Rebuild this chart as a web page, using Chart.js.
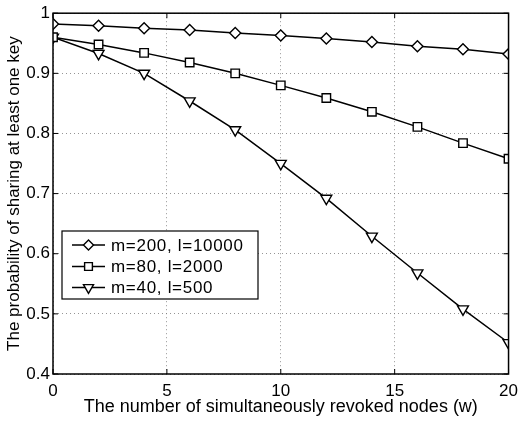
<!DOCTYPE html>
<html>
<head>
<meta charset="utf-8">
<script src="https://cdn.jsdelivr.net/npm/chart.js@4/dist/chart.umd.min.js"></script>
<style>
  html, body { margin: 0; padding: 0; background: #fff; }
  #wrap { width: 525px; height: 421px; }
</style>
</head>
<body>
<div id="wrap"><canvas id="chart" width="525" height="421"></canvas></div>
<script>
// revoked nodes w
var revoked = [0, 2, 4, 6, 8, 10, 12, 14, 16, 18, 20];

// probability of sharing at least one key
var m200 = [0.982, 0.979, 0.975, 0.972, 0.967, 0.963, 0.958, 0.952, 0.945, 0.940, 0.932];
var m80 = [0.960, 0.948, 0.934, 0.918, 0.900, 0.880, 0.859, 0.836, 0.811, 0.784, 0.758];
var m40 = [0.960, 0.933, 0.900, 0.854, 0.806, 0.750, 0.692, 0.629, 0.568, 0.508, 0.452];

var seriesLabels = ["m=200, l=10000", "m=80, l=2000", "m=40, l=500"];

var fontFamily = "'Liberation Sans', Arial, Helvetica, sans-serif";

function points(ys) {
    return revoked.map(function (w, i) { return { x: w, y: ys[i] }; });
}

function series(label, ys, style, radius, rotation) {
    return {
        label: label,
        data: points(ys),
        borderColor: '#000',
        backgroundColor: '#fff',
        borderWidth: 1.5,
        pointStyle: style,
        pointRadius: radius,
        pointRotation: rotation,
        pointBorderWidth: 1.4,
        pointBackgroundColor: '#fff',
        pointBorderColor: '#000',
        tension: 0,
        fill: false
    };
}

// frame around the plot area with small inward ticks (matlab style box)
var frame = {
    id: 'frame',
    afterDatasetsDraw: function (chart) {
        var a = chart.chartArea, ctx = chart.ctx;
        var xs = chart.scales.x, ys = chart.scales.y;
        ctx.save();
        ctx.strokeStyle = '#000';
        ctx.lineWidth = 1;
        ctx.beginPath();
        xs.ticks.forEach(function (t) {
            var px = xs.getPixelForValue(t.value);
            ctx.moveTo(px, a.bottom); ctx.lineTo(px, a.bottom - 5);
            ctx.moveTo(px, a.top); ctx.lineTo(px, a.top + 5);
        });
        ys.ticks.forEach(function (t) {
            var py = ys.getPixelForValue(t.value);
            ctx.moveTo(a.left, py); ctx.lineTo(a.left + 5, py);
            ctx.moveTo(a.right, py); ctx.lineTo(a.right - 5, py);
        });
        ctx.stroke();
        ctx.lineWidth = 1.5;
        ctx.strokeRect(a.left, a.top, a.right - a.left, a.bottom - a.top);
        ctx.restore();
    }
};

// legend box inside the plot area
var boxLegend = {
    id: 'boxLegend',
    afterDraw: function (chart) {
        var ctx = chart.ctx;
        var x0 = 62, y0 = 231, w = 196, h = 68;
        ctx.save();
        ctx.fillStyle = '#fff';
        ctx.fillRect(x0, y0, w, h);
        ctx.strokeStyle = '#000';
        ctx.lineWidth = 1.2;
        ctx.strokeRect(x0, y0, w, h);
        ctx.font = '17px ' + fontFamily;
        if ('letterSpacing' in ctx) ctx.letterSpacing = '0.7px';
        ctx.textBaseline = 'middle';
        var rows = [245, 266.5, 287.5];
        chart.data.datasets.forEach(function (ds, i) {
            var y = rows[i];
            ctx.strokeStyle = '#000';
            ctx.lineWidth = 1.5;
            ctx.beginPath();
            ctx.moveTo(72, y);
            ctx.lineTo(105, y);
            ctx.stroke();
            ctx.fillStyle = '#fff';
            ctx.lineWidth = 1.4;
            Chart.helpers.drawPoint(ctx, {
                pointStyle: ds.pointStyle,
                radius: ds.pointRadius - 0.5,
                rotation: ds.pointRotation,
                borderWidth: 1.4
            }, 88.5, y);
            ctx.fillStyle = '#000';
            ctx.fillText(ds.label, 111, y + 1);
        });
        ctx.restore();
    }
};

var gridOpts = {
    color: '#7a7a7a',
    lineWidth: 0.8,
    drawTicks: false
};
var borderOpts = { display: true, color: 'rgba(0,0,0,0)', dash: [1, 3] };

var chartView = document.getElementById('chart');
var chart = new Chart(chartView, {
    type: 'line',
    data: {
        datasets: [
            series(seriesLabels[0], m200, 'rectRot', 5.5, 0),
            series(seriesLabels[1], m80, 'rect', 6, 0),
            series(seriesLabels[2], m40, 'triangle', 6.3, 180)
        ]
    },
    options: {
        responsive: false,
        animation: false,
        devicePixelRatio: 1,
        layout: { padding: { top: 11, right: 13, left: 0, bottom: 0 } },
        plugins: {
            legend: { display: false },
            tooltip: { enabled: false }
        },
        scales: {
            x: {
                type: 'linear',
                min: 0,
                max: 20,
                afterFit: function (scale) { scale.height = 47; },
                ticks: {
                    stepSize: 5,
                    color: '#000',
                    padding: 7,
                    maxRotation: 0,
                    font: { family: fontFamily, size: 17 }
                },
                grid: gridOpts,
                border: borderOpts,
                title: {
                    display: true,
                    text: 'The number of simultaneously revoked nodes (w)',
                    color: '#000',
                    padding: { top: 0, bottom: 3 },
                    font: { family: fontFamily, size: 18 }
                }
            },
            y: {
                min: 0.4,
                max: 1,
                afterFit: function (scale) { scale.width = 53; },
                ticks: {
                    stepSize: 0.1,
                    color: '#000',
                    padding: 3,
                    font: { family: fontFamily, size: 17 },
                    callback: function (v) { return String(Math.round(v * 10) / 10); }
                },
                grid: gridOpts,
                border: borderOpts,
                title: {
                    display: true,
                    text: 'The probability of sharing at least one key',
                    color: '#000',
                    padding: { top: 4, bottom: 0 },
                    font: { family: fontFamily, size: 17 }
                }
            }
        }
    },
    plugins: [frame, boxLegend]
});
</script>
</body>
</html>
